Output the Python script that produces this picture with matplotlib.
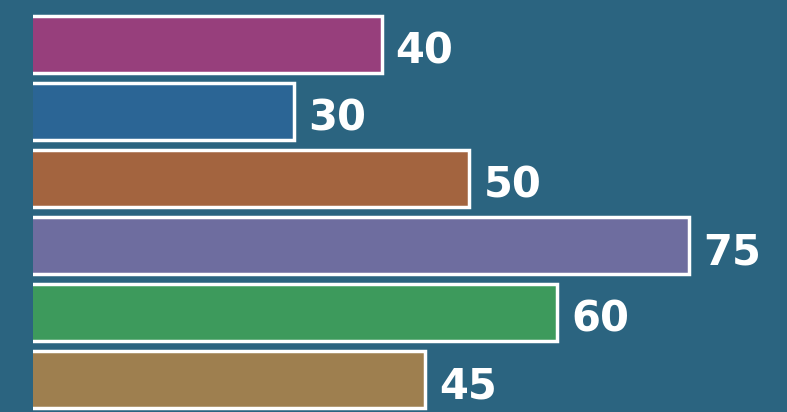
import matplotlib
matplotlib.use("Agg")
import matplotlib.pyplot as plt

# data, top to bottom
categories = ["A", "B", "C", "D", "E", "F"]
values = [40, 30, 50, 75, 60, 45]
colors = ["#973f7c", "#2b6595", "#a3643f", "#6e6d9f", "#3d9a5c", "#9e7f4f"]
bg = "#2b6480"

W, H = 787, 412
fig = plt.figure(figsize=(W / 100, H / 100), dpi=100)
fig.patch.set_facecolor(bg)

# axes start where the bars start, the left border is clipped off
left_px = 33
ax = fig.add_axes([left_px / W, 0, 1 - left_px / W, 1])
ax.set_facecolor(bg)

pos = list(range(len(categories)))
ax.barh(pos, values, height=0.85, color=colors, edgecolor="white", linewidth=2.5)

for y, v in zip(pos, values):
    ax.text(v + 1.6, y + 0.11, str(v), color="white", fontsize=30,
            fontweight="bold", va="center", ha="left")

px_per_unit = 8.75
ax.set_xlim(0.3, (W - left_px) / px_per_unit)
ax.set_ylim(5.485, -0.664)
ax.axis("off")

fig.savefig("out.png", dpi=100, facecolor=bg)
